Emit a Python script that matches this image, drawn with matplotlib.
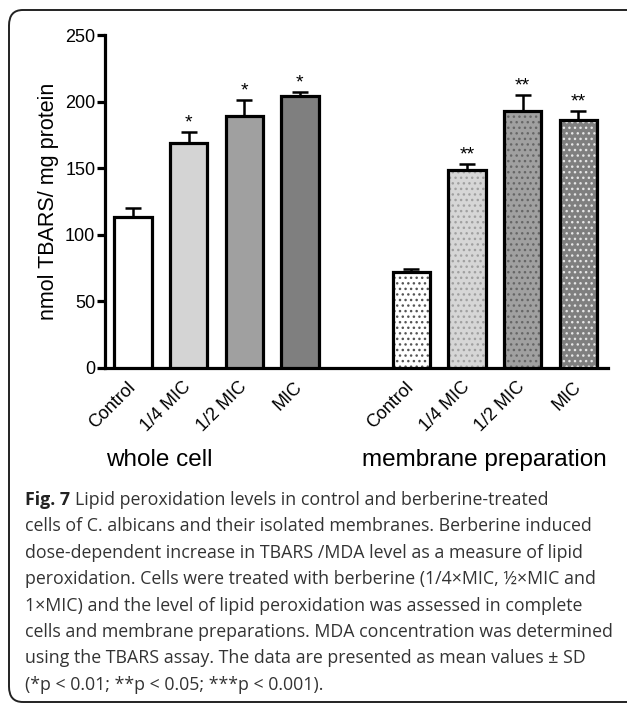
"""
Lipid peroxidation (TBARS) bar chart, whole cell vs membrane preparation.
"""

import numpy as np
import matplotlib.pyplot as plt
from matplotlib.patches import FancyBboxPatch

# data
labels = ['Control', '1/4 MIC', '1/2 MIC', 'MIC']
whole_cell = [113, 169, 189, 204]
whole_cell_sd = [7, 8, 12, 3]
membrane = [72, 149, 193, 186]
membrane_sd = [2, 4, 12, 7]
whole_cell_sig = ['', '*', '*', '*']
membrane_sig = ['', '**', '**', '**']
groups = ['whole cell', 'membrane preparation']

caption_lines = [
    'Lipid peroxidation levels in control and berberine-treated',
    'cells of C. albicans and their isolated membranes. Berberine induced',
    'dose-dependent increase in TBARS /MDA level as a measure of lipid',
    'peroxidation. Cells were treated with berberine (1/4\u00d7MIC, \u00bd\u00d7MIC and',
    '1\u00d7MIC) and the level of lipid peroxidation was assessed in complete',
    'cells and membrane preparations. MDA concentration was determined',
    'using the TBARS assay. The data are presented as mean values \u00b1 SD',
    '(*p < 0.01; **p < 0.05; ***p < 0.001).',
]

wc_colors = ['#ffffff', '#d4d4d4', '#a0a0a0', '#7f7f7f']
mp_colors = ['#ffffff', '#d6d6d6', '#a0a0a0', '#7f7f7f']
mp_dots = ['#555555', '#a0a0a0', '#666666', '#e6e6e6']

plt.rcParams['font.family'] = ['Liberation Sans', 'DejaVu Sans']
plt.rcParams['hatch.linewidth'] = 1.0

W, H = 627, 704
fig = plt.figure(figsize=(W / 100, H / 100), dpi=100)

# frame around the whole figure
frame = FancyBboxPatch((9 / W, 2 / H), 640 / W, 692 / H,
                       boxstyle='round,pad=0,rounding_size=0.022',
                       transform=fig.transFigure, facecolor='none',
                       edgecolor='#222222', linewidth=1.4, clip_on=False)
fig.patches.append(frame)

ax = fig.add_axes([105 / W, 1 - 368 / H, 503 / W, 333 / H])

x_wc = np.arange(4)
x_mp = np.arange(4) + 5
bw = 0.67
lw = 2.3

ax.bar(x_wc, whole_cell, bw, color=wc_colors, edgecolor='black',
       linewidth=lw, zorder=3)
ax.errorbar(x_wc, whole_cell, yerr=[np.zeros(4), whole_cell_sd], fmt='none',
            ecolor='black', elinewidth=1.8, capsize=6, capthick=1.8, zorder=2)

# dotted bars: fill + dots first, black outline on top
for xi, v, c, d in zip(x_mp, membrane, mp_colors, mp_dots):
    ax.bar(xi, v, bw * 0.94, color=c, edgecolor=d, hatch='...',
           linewidth=0, zorder=3)
    ax.bar(xi, v, bw, fill=False, edgecolor='black', linewidth=lw, zorder=4)
ax.errorbar(x_mp, membrane, yerr=[np.zeros(4), membrane_sd], fmt='none',
            ecolor='black', elinewidth=1.8, capsize=6, capthick=1.8, zorder=2)

for xi, v, e, s in zip(list(x_wc) + list(x_mp), whole_cell + membrane,
                       whole_cell_sd + membrane_sd,
                       whole_cell_sig + membrane_sig):
    if s:
        ax.text(xi, v + e + 0.5, s, ha='center', va='bottom', fontsize=14)

ax.set_xlim(-0.5, 8.53)
ax.set_ylim(0, 250)
ax.set_yticks([0, 50, 100, 150, 200, 250])
ax.set_xticks(list(x_wc) + list(x_mp))
ax.set_xticklabels(labels + labels, rotation=45, ha='right', va='center',
                   rotation_mode='anchor', fontsize=13)
ax.tick_params(axis='x', length=0, pad=12)
ax.tick_params(axis='y', length=6, width=2.3, labelsize=13, pad=1)
for side in ['top', 'right']:
    ax.spines[side].set_visible(False)
for side in ['left', 'bottom']:
    ax.spines[side].set_linewidth(2.3)
ax.set_ylabel('nmol TBARS/ mg protein', fontsize=15.5, labelpad=4)

fig.text(159 / W, 1 - 460 / H, groups[0], ha='center', va='center',
         fontsize=17.5)
fig.text(484 / W, 1 - 460 / H, groups[1], ha='center', va='center',
         fontsize=17.5)

# caption
cap_color = '#333333'
y0 = 500
step = 26.4
fs = 12.8
fig.canvas.draw()
renderer = fig.canvas.get_renderer()
t = fig.text(25 / W, 1 - y0 / H, 'Fig. 7', fontsize=fs, family='Open Sans',
             weight='bold', color='#222222', va='center')
bb = t.get_window_extent(renderer)
fig.text((bb.x1 + 5) / W, 1 - y0 / H, caption_lines[0], fontsize=fs,
         family='Open Sans', color=cap_color, va='center')
for i, line in enumerate(caption_lines[1:], start=1):
    fig.text(25 / W, 1 - (y0 + i * step) / H, line, fontsize=fs,
             family='Open Sans', color=cap_color, va='center')

plt.savefig('out.png', dpi=100)
plt.close()
